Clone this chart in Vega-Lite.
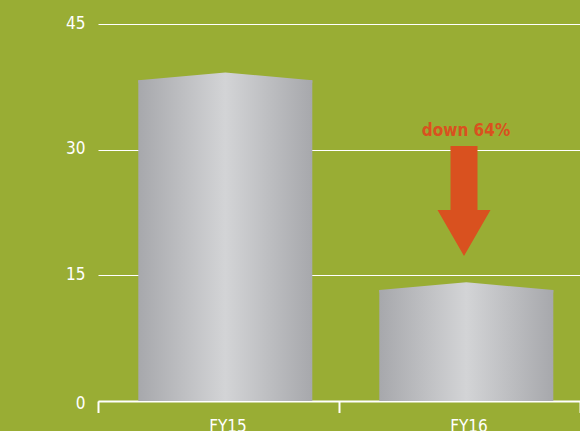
{
  "$schema": "https://vega.github.io/schema/vega-lite/v6.json",
  "width": 482,
  "height": 377,
  "autosize": "none",
  "padding": {"left": 98, "top": 24, "right": 0, "bottom": 30},
  "background": "#99ad34",
  "config": {
    "view": {"stroke": null},
    "font": "Liberation Sans Narrow, DejaVu Sans Condensed, sans-serif"
  },
  "datasets": {
    "bars": [
      {"year": "FY15", "value": 38.3, "peak": 39.2},
      {"year": "FY16", "value": 13.25, "peak": 14.15}
    ],
    "note": [
      {"year": "FY16", "label": "down 64%", "labelY": 32.2, "arrowY": 22.8}
    ]
  },
  "encoding": {
    "x": {
      "field": "year",
      "type": "nominal",
      "scale": {"type": "band", "paddingInner": 0, "paddingOuter": 0, "domain": ["FY15", "FY16"]},
      "axis": {
        "title": null,
        "labelAngle": 0,
        "domainColor": "white",
        "domainWidth": 2,
        "tickColor": "white",
        "tickWidth": 2,
        "tickSize": 11.5,
        "bandPosition": 1,
        "tickExtra": true,
        "labelColor": "white",
        "labelFontSize": 17,
        "labelOffset": 9.5,
        "labelPadding": 6,
        "labelBaseline": "top"
      }
    }
  },
  "layer": [
    {
      "data": {"name": "bars"},
      "mark": {
        "type": "bar",
        "width": {"band": 0.722},
        "xOffset": 6.8,
        "color": {
          "gradient": "linear",
          "x1": 0, "x2": 1, "y1": 0, "y2": 0,
          "stops": [
            {"offset": 0, "color": "#a7a8ac"},
            {"offset": 0.5, "color": "#d3d4d6"},
            {"offset": 1, "color": "#a7a8ac"}
          ]
        }
      },
      "encoding": {
        "y": {
          "field": "value",
          "type": "quantitative",
          "scale": {"domain": [0, 45], "nice": false},
          "axis": {
            "title": null,
            "values": [0, 15, 30, 45],
            "domain": false,
            "ticks": false,
            "grid": true,
            "gridColor": "white",
            "gridWidth": 1.2,
            "gridOpacity": 1,
            "labelColor": "white",
            "labelFontSize": 17,
            "labelPadding": 13,
            "labelBaseline": "middle",
            "labelOffset": {"condition": {"test": "datum.value === 0", "value": 2}, "value": -1}
          }
        }
      }
    },
    {
      "data": {"name": "bars"},
      "mark": {
        "type": "point",
        "shape": "M -1 0.03 L -1 0 L 0 -0.0885 L 1 0 L 1 0.03 Z",
        "size": 30276,
        "filled": true,
        "opacity": 1,
        "strokeWidth": 0,
        "xOffset": 6.8,
        "color": {
          "gradient": "linear",
          "x1": 0, "x2": 1, "y1": 0, "y2": 0,
          "stops": [
            {"offset": 0, "color": "#a7a8ac"},
            {"offset": 0.5, "color": "#d3d4d6"},
            {"offset": 1, "color": "#a7a8ac"}
          ]
        }
      },
      "encoding": {
        "y": {"field": "value", "type": "quantitative"}
      }
    },
    {
      "data": {"name": "note"},
      "mark": {
        "type": "point",
        "shape": "M -0.509 -2.415 L 0.509 -2.415 L 0.509 0 L 1 0 L 0 1.736 L -1 0 L -0.509 0 Z",
        "size": 2809,
        "filled": true,
        "opacity": 1,
        "strokeWidth": 0,
        "xOffset": 4.5,
        "color": "#d9511f"
      },
      "encoding": {
        "y": {"field": "arrowY", "type": "quantitative"}
      }
    },
    {
      "data": {"name": "note"},
      "mark": {
        "type": "text",
        "xOffset": 6.5,
        "color": "#d9511f",
        "fontSize": 17,
        "fontWeight": "bold",
        "baseline": "middle",
        "align": "center"
      },
      "encoding": {
        "y": {"field": "labelY", "type": "quantitative"},
        "text": {"field": "label"}
      }
    }
  ]
}
